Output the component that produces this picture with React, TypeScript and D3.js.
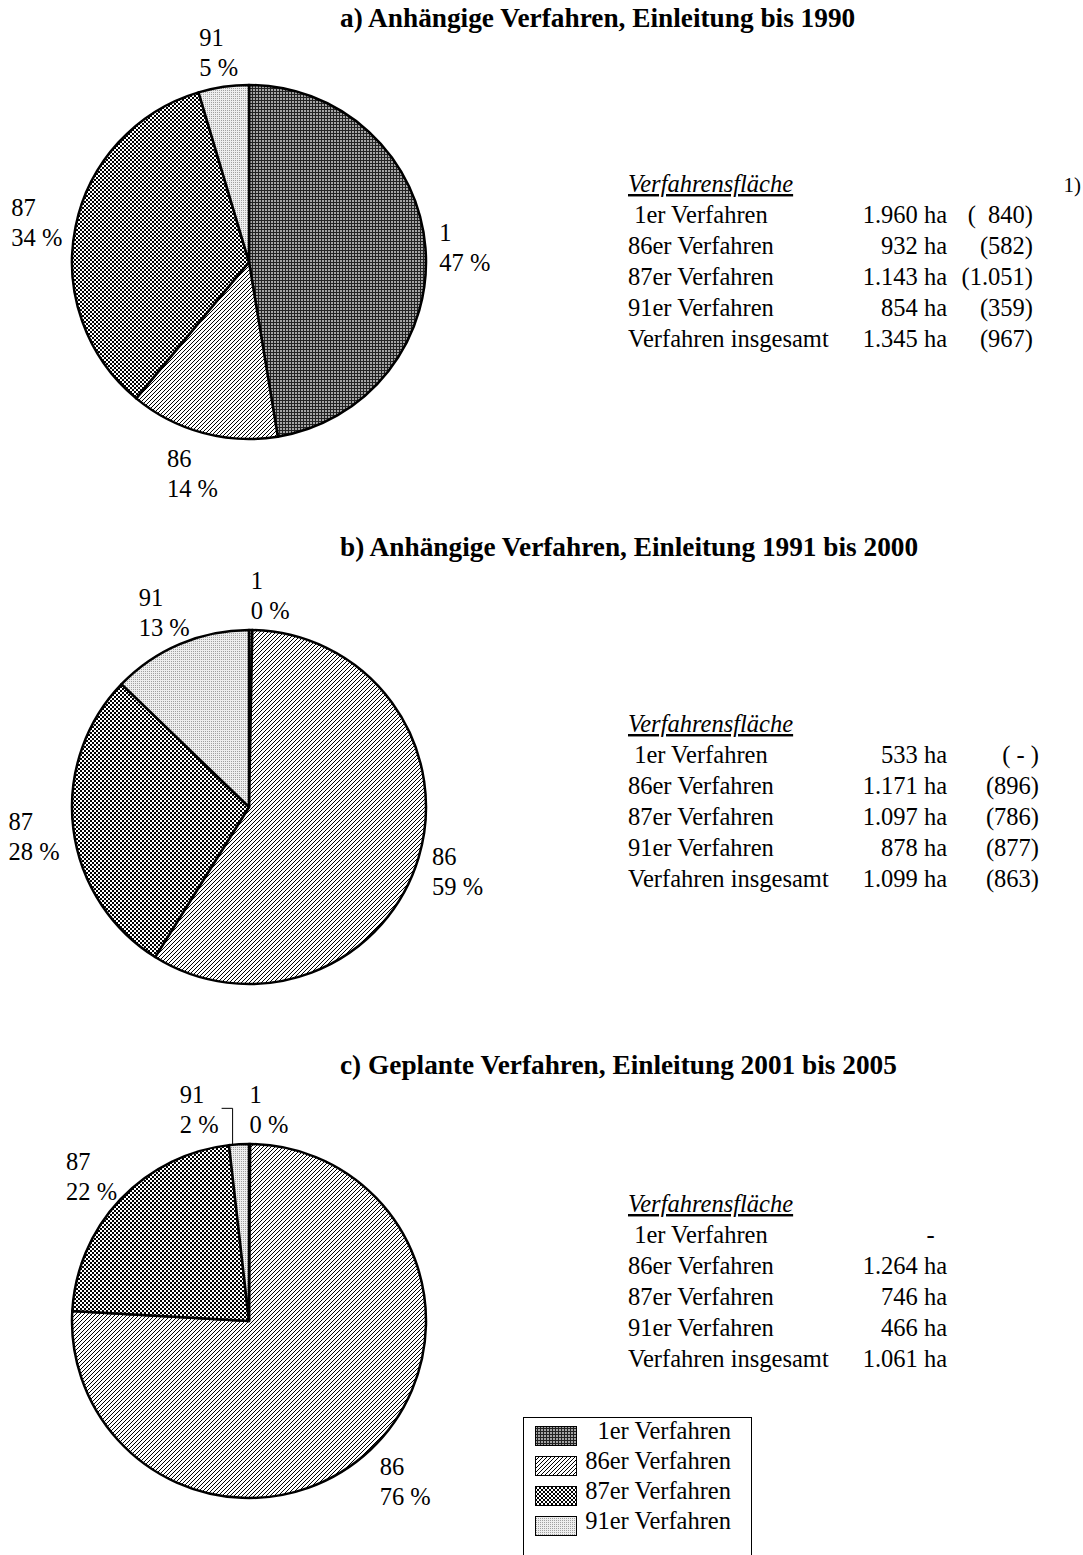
import React, { useEffect, useRef } from "react";
import * as d3 from "d3";

// slice order, clockwise from 12 o'clock
const categories = ["1", "86", "87", "91"];
const legendLabels = ["1er Verfahren", "86er Verfahren", "87er Verfahren", "91er Verfahren"];
const patternIds = ["p1", "p86", "p87", "p91"];

const titles = [
  "a) Anhängige Verfahren, Einleitung bis 1990",
  "b) Anhängige Verfahren, Einleitung 1991 bis 2000",
  "c) Geplante Verfahren, Einleitung 2001 bis 2005",
];

// shares in percent
const sharesA = [47.4, 13.6, 34.4, 4.6];
const sharesB = [0.3, 58.6, 28.3, 12.8];
const sharesC = [0.1, 75.8, 22.3, 1.8];

const tableHeader = "Verfahrensfläche";
const rowLabels = ["\u00a01er Verfahren", "86er Verfahren", "87er Verfahren", "91er Verfahren", "Verfahren insgesamt"];
const areaA = ["1.960 ha", "932 ha", "1.143 ha", "854 ha", "1.345 ha"];
const prevA = ["(\u00a0\u00a0840)", "(582)", "(1.051)", "(359)", "(967)"];
const areaB = ["533 ha", "1.171 ha", "1.097 ha", "878 ha", "1.099 ha"];
const prevB = ["(\u00a0-\u00a0)", "(896)", "(786)", "(877)", "(863)"];
const areaC = ["-\u00a0\u00a0", "1.264 ha", "746 ha", "466 ha", "1.061 ha"];
const footnote = "1)";

const W = 1083, H = 1555;
const FONT = "'Liberation Serif', 'Times New Roman', serif";

// pixel tile helper: list of [x, y, w, h, colour]
function addPattern(defs: any, id: string, size: number, bg: string, cells: [number, number, number, number, string][]) {
  const p = defs.append("pattern").attr("id", id).attr("patternUnits", "userSpaceOnUse")
    .attr("width", size).attr("height", size);
  p.append("rect").attr("width", size).attr("height", size).attr("fill", bg).attr("shape-rendering", "crispEdges");
  cells.forEach(([x, y, w, h, c]) =>
    p.append("rect").attr("x", x).attr("y", y).attr("width", w).attr("height", h)
      .attr("fill", c).attr("shape-rendering", "crispEdges"));
}

export default function App() {
  const ref = useRef<SVGSVGElement>(null);

  useEffect(() => {
    const svg = d3.select(ref.current);
    svg.selectAll("*").remove();

    const defs = svg.append("defs");
    // 1er: dark fine grid
    addPattern(defs, "p1", 3, "#a4a4a4", [[0, 0, 3, 1, "#222"], [0, 1, 1, 2, "#222"]]);
    // 86er: "/" hatch
    addPattern(defs, "p86", 4, "#fff", [[3, 0, 1, 1, "#000"], [2, 1, 1, 1, "#000"], [1, 2, 1, 1, "#000"], [0, 3, 1, 1, "#000"]]);
    // 87er: diagonal mesh with white dots
    addPattern(defs, "p87", 4, "#fff", [
      [0, 0, 1, 1, "#000"], [1, 1, 1, 1, "#000"], [2, 2, 1, 1, "#000"], [3, 3, 1, 1, "#000"],
      [3, 0, 1, 1, "#000"], [2, 1, 1, 1, "#000"], [1, 2, 1, 1, "#000"], [0, 3, 1, 1, "#000"],
    ]);
    // 91er: light dotted grey
    addPattern(defs, "p91", 2, "#eeeeee", [[0, 0, 1, 1, "#a0a0a0"]]);

    const cx = 249, R = 177, gap = 14, lineGap = 30;
    const centersY = [262, 807, 1321];
    const titleY = [27, 556, 1074];
    const tableY = [192, 732, 1212];
    const prevRight = [1033, 1039, 0];

    const panels = [
      { title: titles[0], shares: sharesA, area: areaA, prev: prevA },
      { title: titles[1], shares: sharesB, area: areaB, prev: prevB },
      { title: titles[2], shares: sharesC, area: areaC, prev: null },
    ];

    const pie = d3.pie<number>().sort(null).value((d) => d);
    const arc = d3.arc<d3.PieArcDatum<number>>().innerRadius(0).outerRadius(R);

    panels.forEach((p, pi) => {
      const cy = centersY[pi];

      svg.append("text")
        .attr("x", 340).attr("y", titleY[pi])
        .attr("font-family", FONT).attr("font-size", 27.3).attr("font-weight", "bold")
        .text(p.title);

      const arcs = pie(p.shares);
      const g = svg.append("g").attr("transform", `translate(${cx},${cy})`);
      g.selectAll("path")
        .data(arcs)
        .join("path")
        .attr("d", arc)
        .attr("fill", (d, i) => `url(#${patternIds[i]})`)
        .attr("stroke", "#000")
        .attr("stroke-width", 2.5)
        .attr("stroke-linejoin", "round");

      // labels: name + rounded percent, outside along the mid-angle
      const placed: { x0: number; x1: number; y0: number; y1: number }[] = [];
      arcs.forEach((a, i) => {
        const th = (a.startAngle + a.endAngle) / 2;
        const s = Math.sin(th), c = Math.cos(th);
        const px = cx + (R + gap) * s;
        const py = cy - (R + gap) * c;

        const lg = svg.append("g").attr("font-family", FONT).attr("font-size", 24.5);
        const t1 = lg.append("text").text(categories[i]);
        const t2 = lg.append("text").text(`${Math.round(a.value)} %`);
        const w = Math.max(
          (t1.node() as SVGTextElement).getComputedTextLength(),
          (t2.node() as SVGTextElement).getComputedTextLength()
        );
        const h = 48;
        let left = s >= 0 ? px : px - w / 2 + (w / 2) * s;
        const cyBox = py - (h / 2) * c;
        let box = { x0: left, x1: left + w, y0: cyBox - h / 2, y1: cyBox + h / 2 };
        let shifted = false;
        placed.forEach((b) => {
          if (box.x0 < b.x1 && box.x1 > b.x0 && box.y0 < b.y1 && box.y1 > b.y0) {
            left = s < 0 ? b.x0 - 31 - w : b.x1 + 31;
            box = { ...box, x0: left, x1: left + w };
            shifted = true;
          }
        });
        placed.push(box);
        const fb = cyBox - 3;
        t1.attr("x", left).attr("y", fb);
        t2.attr("x", left).attr("y", fb + lineGap);

        if (shifted) {
          const lx = box.x1 + 14;
          const ly = cy - Math.sqrt(R * R - (lx - cx) * (lx - cx));
          svg.append("path")
            .attr("d", `M${lx},${ly}V${fb + 5}H${box.x1 + 3}`)
            .attr("fill", "none").attr("stroke", "#000").attr("stroke-width", 1);
        }
      });

      // area table
      const ty = tableY[pi];
      const tg = svg.append("g").attr("font-family", FONT).attr("font-size", 24.5);
      tg.append("text").attr("x", 628).attr("y", ty)
        .attr("font-style", "italic").attr("text-decoration", "underline")
        .text(tableHeader);
      rowLabels.forEach((lab, r) => {
        const y = ty + 31 * (r + 1);
        tg.append("text").attr("x", 628).attr("y", y).text(lab);
        tg.append("text").attr("x", 947).attr("y", y).attr("text-anchor", "end").text(p.area[r]);
        if (p.prev) tg.append("text").attr("x", prevRight[pi]).attr("y", y).attr("text-anchor", "end").text(p.prev[r]);
      });
      if (pi === 0) {
        tg.append("text").attr("x", 1081).attr("y", ty).attr("text-anchor", "end").attr("font-size", 21).text(footnote);
      }
    });

    // legend (box runs past the bottom edge as in the original)
    const lgd = svg.append("g").attr("font-family", FONT).attr("font-size", 24.5);
    lgd.append("rect").attr("x", 523.5).attr("y", 1417.5).attr("width", 228).attr("height", 200)
      .attr("fill", "#fff").attr("stroke", "#000").attr("stroke-width", 1);
    legendLabels.forEach((lab, i) => {
      const by = 1439 + 30 * i;
      lgd.append("rect").attr("x", 535.5).attr("y", by - 12.5).attr("width", 41).attr("height", 19)
        .attr("fill", `url(#${patternIds[i]})`).attr("stroke", "#000").attr("stroke-width", 1);
      lgd.append("text").attr("x", 731).attr("y", by).attr("text-anchor", "end").text(lab);
    });
  }, []);

  return (
    <svg
      ref={ref}
      width={W}
      height={H}
      style={{ position: "absolute", left: 0, top: 0, background: "#fff" }}
    />
  );
}
